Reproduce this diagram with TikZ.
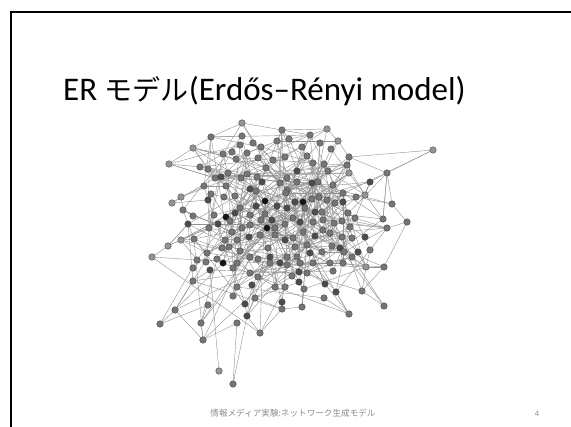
\documentclass[tikz,border=0pt]{standalone}
\usepackage{fontspec}
\setmainfont{Carlito}
\newfontfamily\jpfont[Scale=0.85]{Noto Sans CJK JP}
\newfontfamily\jpsmall{Noto Sans CJK JP}
\pgfdeclarelayer{bg}
\pgfdeclarelayer{edges}
\pgfsetlayers{bg,edges,main}
\definecolor{g0}{gray}{0.58}
\definecolor{g1}{gray}{0.46}
\definecolor{g2}{gray}{0.30}
\definecolor{g3}{gray}{0.08}
\definecolor{edgecol}{gray}{0.58}
\definecolor{footgray}{gray}{0.55}
\tikzset{
  vtx/.style={circle, inner sep=0pt, minimum size=6.6pt, draw=black!75, line width=0.35pt},
  edge/.style={draw=edgecol, line width=0.42pt},
  frame/.style={line width=2.2pt, black},
}
\def\nodelist{242/123/0,282/130/1,211/137/1,242/136/1,193/148/0,169/164/0,223/154/1,232/152/1,253/143/1,261/147/1,
277/141/1,240/145/1,200/167/1,208/169/1,215/178/1,221/177/2,228/173/1,236/159/1,247/153/1,258/158/1,
266/168/1,273/160/1,285/157/1,204/186/1,226/186/1,241/178/1,247/174/1,257/177/1,262/182/2,250/189/2,
256/191/1,280/183/1,287/190/1,211/194/1,224/197/1,208/200/2,181/197/0,172/203/0,183/210/1,235/196/1,
265/201/3,256/206/2,277/206/2,240/208/1,287/208/2,193/216/1,214/215/1,226/217/3,235/213/2,250/215/1,
265/214/1,188/224/2,209/228/1,218/224/2,230/221/1,242/228/1,250/225/1,261/220/1,272/220/2,267/228/3,
275/228/1,285/224/1,181/240/0,194/239/1,168/246/0,152/257/0,225/240/1,237/240/1,249/237/2,260/235/1,
275/235/1,285/240/2,222/248/1,229/247/1,240/251/1,207/253/1,197/260/1,206/262/1,223/263/3,217/259/1,
237/263/1,250/257/1,258/259/1,270/257/2,268/248/1,280/263/2,193/268/1,310/135/1,327/129/0,320/143/1,
338/141/0,331/149/1,289/139/1,302/147/1,433/150/0,349/157/1,347/165/1,349/173/0,387/173/1,370/182/2,
307/156/1,313/163/1,324/164/1,328/171/1,297/171/2,287/178/1,297/182/1,312/183/2,318/182/1,333/185/1,
343/193/1,356/197/1,365/195/0,392/204/1,407/222/1,383/219/1,387/228/1,370/250/1,384/267/1,366/267/0,
286/193/1,295/202/2,303/202/3,312/199/1,319/197/1,327/200/1,335/203/1,343/202/2,355/218/1,348/213/1,
322/212/1,315/212/2,305/208/1,293/218/1,300/222/2,313/222/1,323/220/1,334/223/1,342/221/1,350/227/1,
365/237/2,352/238/1,342/237/1,330/233/1,323/230/1,315/236/2,303/232/1,293/238/1,307/245/1,295/247/1,
332/246/1,340/248/2,344/252/1,358/252/2,322/252/1,310/253/2,287/257/1,297/257/1,232/232/1,352/257/1,
343/263/1,330/263/1,313/263/1,300/263/1,287/265/1,210/270/2,233/268/1,250/273/1,258/277/1,252/285/2,
237/287/1,233/296/1,255/298/1,275/287/1,193/281/1,208/305/1,175/310/1,245/304/2,247/316/2,282/302/2,
282/309/1,160/324/1,201/323/1,237/323/1,203/340/1,260/333/1,219/371/0,233/384/1,270/263/1,292/276/1,
299/272/2,307/273/1,299/282/2,304/289/1,285/287/1,302/307/1,325/284/2,333/271/1,336/292/2,324/298/1,
362/291/1,349/314/1,384/306/1}
\def\mustlist{95/99,99/100,99/96,99/114,99/116,114/115,115/117,115/119,117/118,118/120,119/120,201/203,119/201,
202/199,202/197,187/166,188/184,188/179,182/177,182/176,177/175,177/185,185/183,185/184,183/176,
66/65,66/77,65/63,65/52,63/64,63/53,6/5,6/13,6/15,5/3,5/14,5/7,1/3,1/7,1/2,3/4,3/24,
37/38,37/39,37/24,38/36,39/46,89/88,89/2,89/91,88/93,91/96,91/92,2/11,2/93,113/112,113/100,
120/160,120/154,86/174,178/179,172/171,180/181,181/196,196/194,186/179,186/181,173/170,174/189,
98/97,98/110,95/96}
\begin{document}
\begin{tikzpicture}[x=1pt,y=-1pt]
\useasboundingbox (0,0) rectangle (571,427);
\begin{pgfonlayer}{bg}
\fill[white] (0,0) rectangle (571,427);
\end{pgfonlayer}
\draw[frame] (11,427) -- (11,12) -- (571,12);
\node[anchor=base west, inner sep=0pt] (title) at (63,101)
  {\fontsize{33}{40}\selectfont ER {\jpfont モデル}(Erdős–Rényi model)};
% vertices
\foreach \x/\y/\s [count=\i] in \nodelist {
  \node[vtx, fill=g\s] (n\i) at (\x,\y) {};
  \expandafter\xdef\csname px\i\endcsname{\x}
  \expandafter\xdef\csname py\i\endcsname{\y}
  \xdef\NN{\i}
}
% edges
\begin{pgfonlayer}{edges}
\pgfmathsetseed{11}
\foreach \i in {1,...,\NN} {
  \pgfmathtruncatemacro\st{\i+1}
  \ifnum\st>\NN\relax\else
  \foreach \j in {\st,...,\NN} {
    \pgfmathparse{rnd < 0.2*exp(-veclen(\csname px\j\endcsname-\csname px\i\endcsname,\csname py\j\endcsname-\csname py\i\endcsname)/30)+0.0035}
    \ifdim\pgfmathresult pt>0.5pt
      \draw[edge] (n\i) -- (n\j);
    \fi
  }
  \fi
}
\foreach \a/\b in \mustlist { \draw[edge] (n\a) -- (n\b); }
\end{pgfonlayer}
\node[anchor=base, inner sep=0pt, text=footgray] (foot) at (293,417)
  {\jpsmall\fontsize{8.6}{10}\selectfont 情報メディア実験:ネットワーク生成モデル};
\node[anchor=base, inner sep=0pt, text=footgray] (page) at (537,417)
  {\fontsize{8.5}{10}\selectfont 4};
\end{tikzpicture}
\end{document}
